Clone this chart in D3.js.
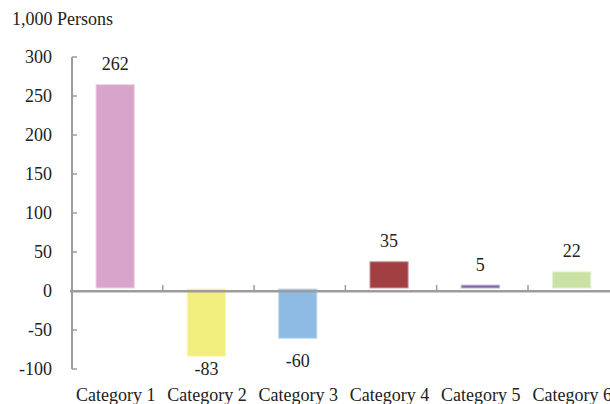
<!DOCTYPE html>
<html><head><meta charset="utf-8">
<script src="https://cdn.jsdelivr.net/npm/d3@7"></script>
<style>body{margin:0;background:#fff;} text{font-family:"Times New Roman","Liberation Serif",serif;fill:#222;}</style>
</head><body>
<svg id="c" width="610" height="404"></svg>
<script>
const categories = ["Category 1","Category 2","Category 3","Category 4","Category 5","Category 6"];
const values = [262, -83, -60, 35, 5, 22];
const colors = ["#d8a4cb","#f3ef7f","#8dbbe4","#a13f42","#7f67a6","#c9e2a4"];
const strokes = ["#ecd2e4","#f9f7c0","#c6ddf1","#d09fa1","#bfb3d3","#e4f0d2"];
const yTicks = [-100,-50,0,50,100,150,200,250,300];
const unitLabel = "1,000 Persons";

const svg = d3.select("#c");
const y = d3.scaleLinear().domain([-100,300]).range([369,57]);
const x = d3.scaleBand().domain(categories).range([71.5,619.3]).paddingInner(0.57).paddingOuter(0.285);
const step = x.step();
const grey = "#9c9c9c";

svg.append("text").attr("x",12).attr("y",25).attr("font-size",18).text(unitLabel);

// y axis
const ya = svg.append("g");
ya.append("line").attr("x1",72).attr("x2",72).attr("y1",y(300)).attr("y2",y(-100)).attr("stroke",grey).attr("stroke-width",2);
ya.selectAll("line.t").data(yTicks).join("line").attr("class","t")
  .attr("x1",72).attr("x2",77).attr("y1",d=>y(d)).attr("y2",d=>y(d)).attr("stroke",grey).attr("stroke-width",1.5);
ya.selectAll("text").data(yTicks).join("text")
  .attr("x",52).attr("y",d=>y(d)).attr("dy","0.35em").attr("text-anchor","end").attr("font-size",18).text(d=>d);

// bars (top edge lifted slightly, as in the reference rendering)
const lift = 2.5;
const bars = svg.append("g");
bars.selectAll("rect").data(values).join("rect")
  .attr("x",(d,i)=>x(categories[i])-2+0.5)
  .attr("y",d=>y(Math.max(d,0))-lift+0.5)
  .attr("width",x.bandwidth()-1)
  .attr("height",d=> d>=0 ? (y(0)-y(d))-1 : (y(d)+1 - (y(0)-lift))-1)
  .attr("fill",(d,i)=>colors[i])
  .attr("stroke",(d,i)=>strokes[i]).attr("stroke-width",1);

// zero axis
const xa = svg.append("g");
xa.append("line").attr("x1",70).attr("x2",610).attr("y1",y(0)+0.3).attr("y2",y(0)+0.3).attr("stroke",grey).attr("stroke-width",2.5);
xa.selectAll("line.t").data(categories.slice(1)).join("line").attr("class","t")
  .attr("x1",d=>x(d)-step*x.paddingInner()/2).attr("x2",d=>x(d)-step*x.paddingInner()/2)
  .attr("y1",y(0)).attr("y2",y(0)-6).attr("stroke",grey).attr("stroke-width",1.5);

// value labels
svg.append("g").selectAll("text").data(values).join("text")
  .attr("x",(d,i)=>x(categories[i])+x.bandwidth()/2-2)
  .attr("y",d=> d>=0 ? y(d)-lift-14 : Math.min(y(d)+29, 375))
  .attr("text-anchor","middle").attr("font-size",18).text(d=>d);

// category labels
svg.append("g").selectAll("text").data(categories).join("text")
  .attr("x",d=>x(d)+x.bandwidth()/2-1.5).attr("y",401)
  .attr("text-anchor","middle").attr("font-size",18).text(d=>d);
</script>
</body></html>
